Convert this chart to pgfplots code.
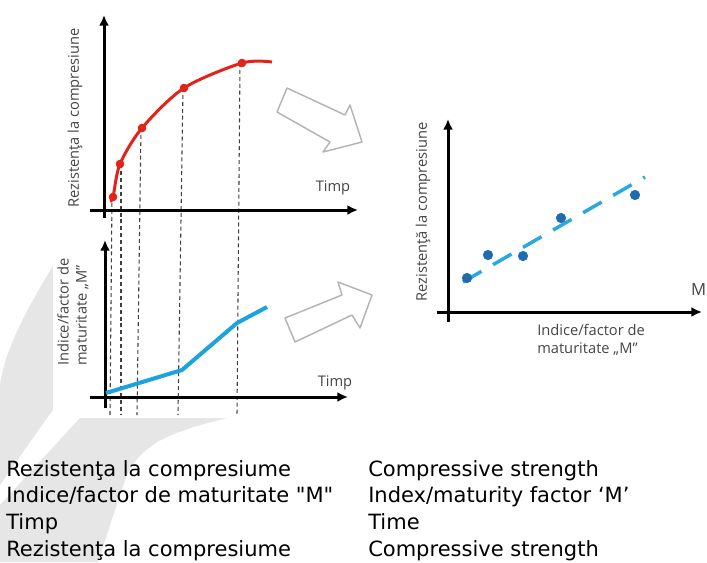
\documentclass[border=0pt]{standalone}
\usepackage{fontspec}
\setmainfont{DejaVu Sans}
\newfontfamily\tablefont{DejaVu Sans}
\newfontfamily\lblfont{Open Sans}
\usepackage{pgfplots}
\pgfplotsset{compat=1.18}
\usetikzlibrary{arrows.meta}

\definecolor{redc}{HTML}{E2231A}
\definecolor{cyanc}{HTML}{1AA3DD}
\definecolor{dotc}{HTML}{1F6BB0}
\definecolor{dashc}{HTML}{2AA8E0}
\definecolor{arrc}{HTML}{B4B4B4}
\definecolor{wm}{HTML}{E6E6E6}
\definecolor{lbl}{HTML}{454545}

\newcommand{\lbl}{\lblfont\fontsize{11}{13.5}\selectfont\color{lbl}}

\pgfplotsset{
  sketch/.style={
    axis lines=middle, anchor=origin,
    x=0.75pt, y=0.75pt,
    ticks=none, clip=false,
    axis line style={line width=2.25pt, -{Latex[length=8pt,width=7.5pt]}},
  }
}

\begin{document}
\begin{tikzpicture}[x=0.75pt,y=-0.75pt]
\useasboundingbox (0,0) rectangle (707,562);
\clip (0,0) rectangle (707,562);
\fill[white] (0,0) rectangle (707,562);

% light grey watermark behind the left figure
\fill[wm] (53,266) .. controls (25,312) and (5,350) .. (0,385) -- (0,485) -- (47,418) -- (53,410) -- cycle;
\fill[wm] (80,418) -- (227,418) .. controls (180,430) and (140,440) .. (125,480)
  .. controls (115,510) and (105,540) .. (98,562) -- (0,562) -- (0,505) -- cycle;
\fill[white] (53,0) rectangle (395,418);

% dashed guides from the strength points down through the lower plot
\foreach \xa/\ya/\xb in {112/196/110, 121/164/121, 141/128/137, 183/88/178, 240/63/237}
  \draw[black!75, line width=0.8pt, dash pattern=on 3pt off 2.2pt] (\xa,\ya) -- (\xb,415);

% hollow block arrows
\draw[arrc, line width=1.1pt, fill=white, line join=round]
  (287,88) -- (345,115) -- (350,105) -- (362,142) -- (323,152) -- (330,142) -- (277,112) -- cycle;
\draw[arrc, line width=1.1pt, fill=white, line join=round]
  (285,318) -- (342,295) -- (338,282) -- (372,295) -- (360,328) -- (352,315) -- (295,342) -- cycle;

% strength vs time
\begin{axis}[sketch, at={(78pt,-157.5pt)}, xmin=-14, xmax=254, ymin=-8, ymax=195]
  \addplot[redc, line width=2.25pt, smooth] coordinates {
    (6,9)(9,13)(16,46)(38,82)(80,122)(138,147)(168,148)};
  \addplot[only marks, mark=*, mark size=3pt, redc] coordinates {
    (9,13)(16,46)(38,82)(80,122)(138,147)};
\end{axis}

% maturity index vs time
\begin{axis}[sketch, at={(78.75pt,-297.75pt)}, xmin=-15, xmax=243, ymin=-11, ymax=157]
  \addplot[cyanc, line width=3pt, line join=round] coordinates {
    (1,4)(77,27)(132,74)(162,90)};
\end{axis}

% strength vs maturity index
\begin{axis}[sketch, at={(336pt,-234pt)}, xmin=-11, xmax=254, ymin=-10, ymax=193]
  \addplot[dashc, line width=2.6pt, dash pattern=on 16pt off 10pt] coordinates {
    (15,30)(197,135)};
  \addplot[only marks, mark=*, mark size=3.6pt, dotc] coordinates {
    (19,34)(40,57)(75,56)(113,94)(187,117)};
\end{axis}

% labels inside the figure
\node[rotate=90, font=\lbl] at (75,118) {Rezistenţa la compresiune};
\node[font=\lbl] at (333,188) {Timp};
\node[rotate=90, align=left, font=\lbl] at (73,312) {Indice/factor de\\maturitate „M”};
\node[font=\lbl] at (335,383) {Timp};
\node[rotate=90, font=\lbl] at (423,212) {Rezistenţă la compresiune};
\node[align=left, anchor=north west, inner sep=0pt, font=\lbl] at (537,324) {Indice/factor de\\maturitate „M”};
\node[anchor=east, inner sep=0pt, font=\lblfont\fontsize{12.5}{15}\selectfont\color{lbl}] at (706.5,290) {M};

% translation table
\begin{scope}[every node/.style={anchor=base west, inner sep=0pt, font=\tablefont\fontsize{15.75}{20}\selectfont}]
  \node at (6,476) {Rezistenţa la compresiume};
  \node at (6,502.7) {Indice/factor de maturitate "M"};
  \node at (6,529.3) {Timp};
  \node at (6,556) {Rezistenţa la compresiume};
  \node at (368,476) {Compressive strength};
  \node at (368,502.7) {Index/maturity factor ‘M’};
  \node at (368,529.3) {Time};
  \node at (368,556) {Compressive strength};
\end{scope}
\end{tikzpicture}
\end{document}
